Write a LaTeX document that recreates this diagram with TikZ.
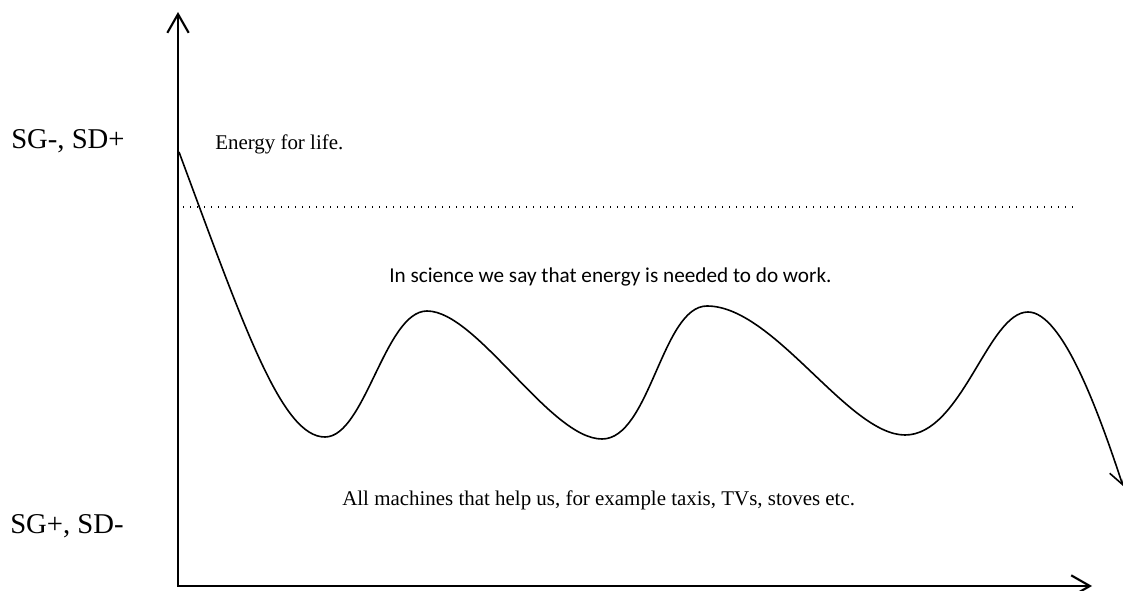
\documentclass[tikz,border=0pt]{standalone}
\usepackage{fontspec}
\setmainfont{Liberation Serif}
\newfontfamily\calibrifont{Carlito}
\usetikzlibrary{arrows.meta}
\begin{document}
\begin{tikzpicture}[x=0.75pt,y=-0.75pt,
  axisline/.style={line width=1.9pt,line cap=butt},
  barb/.tip={Straight Barb[length=14pt,width=16pt,line width=1.6pt]},
  curvebarb/.tip={Straight Barb[length=11pt,width=13pt,line width=1.2pt]},
  wave/.style={line width=1.2pt},
  dotline/.style={line width=0.9pt,dash pattern=on 0.9pt off 4.35pt},
  bigtxt/.style={anchor=base west,inner sep=0pt,font=\fontsize{21.5pt}{24pt}\selectfont},
  smalltxt/.style={anchor=base west,inner sep=0pt,font=\fontsize{15.7pt}{18pt}\selectfont},
  sanstxt/.style={anchor=base west,inner sep=0pt,font=\calibrifont\fontsize{15.9pt}{18pt}\selectfont}
]
\useasboundingbox (0,0) rectangle (1123,591);
\fill[white] (0,0) rectangle (1123,591);
% axes
\coordinate (ytop) at (178,12);
\coordinate (origin) at (178,586);
\coordinate (xend) at (1092,586);
\draw[axisline,{barb}-{barb}] (ytop) -- (origin) -- (xend);
% dotted level line
\coordinate (dl) at (183,207);
\coordinate (dr) at (1074,207);
\draw[dotline] (dl) -- (dr);
% wave
\coordinate (c0) at (179,152);
\coordinate (m1) at (325,437);
\coordinate (p1) at (427,311);
\coordinate (m2) at (602,439);
\coordinate (p2) at (707,306);
\coordinate (m3) at (905,435);
\coordinate (p3) at (1028,312);
\coordinate (c7) at (1123,486);
\draw[wave,-{curvebarb}] (c0) .. controls (245,330) and (282,437) .. (m1)
  .. controls (365,437) and (385,311) .. (p1)
  .. controls (477,311) and (550,439) .. (m2)
  .. controls (650,439) and (662,306) .. (p2)
  .. controls (774,306) and (848,435) .. (m3)
  .. controls (962,435) and (988,312) .. (p3)
  .. controls (1062,312) and (1098,410) .. (c7);
% texts
\node[bigtxt] (sgtop) at (11,149) {SG-, SD+};
\node[bigtxt] (sgbot) at (10,533) {SG+, SD-};
\node[smalltxt] (life) at (215,150) {Energy for life.};
\node[sanstxt] (science) at (389,282) {In science we say that energy is needed to do work.};
\node[smalltxt] (machines) at (342,505) {All machines that help us, for example taxis, TVs, stoves etc.};
\end{tikzpicture}
\end{document}
